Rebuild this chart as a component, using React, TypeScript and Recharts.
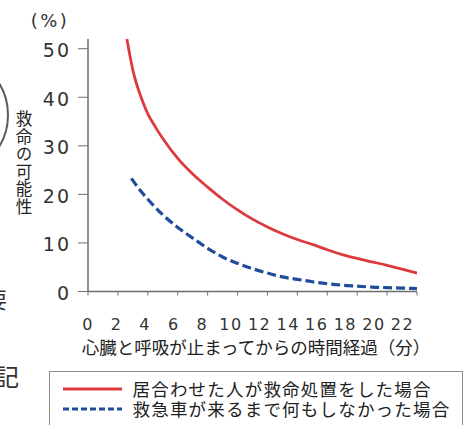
import React from 'react';
import { LineChart, Line, XAxis, YAxis, Legend } from 'recharts';

// ---- data ----
const rescueMinutes = [2.6, 3, 3.5, 4, 4.5, 5, 6, 7, 8, 9, 10, 11, 12, 13, 14, 15, 16, 17, 18, 19, 20, 21, 22];
const rescueRates = [52, 45.6, 40.4, 36.6, 33.9, 31.5, 27.4, 24.2, 21.5, 19.0, 16.8, 14.9, 13.3, 11.9, 10.7, 9.7, 8.6, 7.6, 6.8, 6.1, 5.4, 4.6, 3.8];

const waitMinutes = [2.9, 3.5, 4, 5, 6, 7, 8, 9, 10, 11, 12, 13, 14, 15, 16, 17, 18, 19, 20, 21, 22];
const waitRates = [23.3, 20.8, 19.0, 15.8, 13.2, 11.0, 8.9, 7.1, 5.8, 4.7, 3.8, 3.0, 2.5, 2.0, 1.6, 1.3, 1.1, 0.9, 0.8, 0.7, 0.6];

const xTicks = [0, 2, 4, 6, 8, 10, 12, 14, 16, 18, 20, 22];
const yTicks = [0, 10, 20, 30, 40, 50];

const seriesNames = ['居合わせた人が救命処置をした場合', '救急車が来るまで何もしなかった場合'];
const xTitle = '心臓と呼吸が止まってからの時間経過（分）';
const yTitle = '救命の可能性';
const yUnit = '(%)';

const rescueData = rescueMinutes.map((t, i) => ({ t, v: rescueRates[i] }));
const waitData = waitMinutes.map((t, i) => ({ t, v: waitRates[i] }));

// ---- layout / style ----
const W = 463;
const H = 425;
const PLOT_LEFT = 88;
const CJK = '"Noto Sans CJK JP", "Noto Sans", sans-serif';
const NUM = '"DejaVu Sans", sans-serif';
const AXIS = '#6e6e6e';
const RED = '#dc3a3c';
const BLUE = '#1f4d9b';

const XTick = (props: any) => {
  const { x, y, payload } = props;
  const lx = PLOT_LEFT + (x - PLOT_LEFT) * 0.956;
  return (
    <text x={lx} y={y + 32.5} textAnchor="middle" fontFamily={NUM} fontSize={16} letterSpacing={1.5} fill="#333">
      {payload.value}
    </text>
  );
};

const YTick = (props: any) => {
  const { x, y, payload } = props;
  return (
    <text x={x} y={y + 1.5} textAnchor="end" dominantBaseline="central" fontFamily={NUM} fontSize={19} letterSpacing={2} fill="#333">
      {payload.value}
    </text>
  );
};

const XTitle = (props: any) => {
  const vb = props.viewBox || { x: PLOT_LEFT, y: 291.5, width: 329 };
  return (
    <text x={vb.x + vb.width / 2 + 3.5} y={vb.y + 55} textAnchor="middle" dominantBaseline="central" fontFamily={CJK} fontSize={17.5} fill="#222">
      {xTitle}
    </text>
  );
};

const YTitle = () => {
  return (
    <g>
      <text x={50} y={20} textAnchor="middle" dominantBaseline="central" fontFamily={NUM} fontSize={18} letterSpacing={2.5} fill="#333">
        {yUnit}
      </text>
      <text
        x={24}
        y={163}
        textAnchor="middle"
        fontFamily={CJK}
        fontSize={16.5}
        letterSpacing={1}
        fill="#222"
        style={{ writingMode: 'vertical-rl' as any }}
      >
        {yTitle}
      </text>
    </g>
  );
};

const LegendBox = (props: any) => {
  const payload = props.payload || [];
  return (
    <div
      style={{
        boxSizing: 'border-box',
        width: 414,
        height: 70,
        border: '1.5px solid #8c8c8c',
        paddingTop: 7,
        background: '#fff',
      }}
    >
      {payload.map((entry: any, i: number) => {
        const dash = entry.payload && entry.payload.strokeDasharray ? '6 3' : undefined;
        return (
          <div key={i} style={{ display: 'flex', alignItems: 'center', height: 20 }}>
            <svg width={59} height={6} style={{ marginLeft: 12.5, marginRight: 11, display: 'block' }}>
              <line x1={0} y1={3} x2={59} y2={3} stroke={entry.color} strokeWidth={3} strokeDasharray={dash} />
            </svg>
            <span style={{ fontFamily: CJK, fontSize: 17.5, letterSpacing: 1.2, color: '#222', whiteSpace: 'nowrap', lineHeight: '20px' }}>
              {entry.value}
            </span>
          </div>
        );
      })}
    </div>
  );
};

export default function App() {
  return (
    <div style={{ position: 'absolute', left: 0, top: 0, width: W, height: H, overflow: 'hidden', background: '#fff' }}>
      <svg width={W} height={H} style={{ position: 'absolute', left: 0, top: 0, pointerEvents: 'none' }}>
        <circle cx={-52} cy={115} r={60} fill="none" stroke="#5a5a5a" strokeWidth={2} />
        <text x={-15} y={298} dominantBaseline="central" fontFamily={CJK} fontSize={22} fill="#333">要</text>
        <text x={-5} y={375} dominantBaseline="central" fontFamily={CJK} fontSize={24} fill="#333">記</text>
      </svg>
      <div style={{ position: 'absolute', left: 0, top: 0 }}>
        <LineChart width={W} height={H} margin={{ top: 39, right: 46, bottom: 103.5, left: 0 }}>
          <XAxis
            dataKey="t"
            type="number"
            domain={[0, 22]}
            ticks={xTicks}
            interval={0}
            allowDataOverflow
            height={30}
            tickSize={4}
            tickMargin={2}
            axisLine={{ stroke: AXIS, strokeWidth: 1.5 }}
            tickLine={{ stroke: AXIS, strokeWidth: 1 }}
            tick={XTick}
            label={{ content: XTitle }}
          />
          <YAxis
            type="number"
            domain={[0, 52]}
            ticks={yTicks}
            interval={0}
            allowDataOverflow
            width={88}
            tickSize={10}
            tickMargin={7}
            axisLine={{ stroke: AXIS, strokeWidth: 1.5 }}
            tickLine={{ stroke: AXIS, strokeWidth: 1 }}
            tick={YTick}
            label={{ content: YTitle }}
          />
          <Line
            data={rescueData}
            dataKey="v"
            name={seriesNames[0]}
            type="monotone"
            stroke={RED}
            strokeWidth={2.8}
            dot={false}
            activeDot={false}
            isAnimationActive={false}
          />
          <Line
            data={waitData}
            dataKey="v"
            name={seriesNames[1]}
            type="monotone"
            stroke={BLUE}
            strokeWidth={3.2}
            strokeDasharray="9 4"
            dot={false}
            activeDot={false}
            isAnimationActive={false}
          />
          <Legend
            layout="horizontal"
            verticalAlign="middle"
            align="center"
            content={LegendBox}
            wrapperStyle={{ left: 49, top: 371, width: 414, height: 70 }}
          />
        </LineChart>
      </div>
    </div>
  );
}
